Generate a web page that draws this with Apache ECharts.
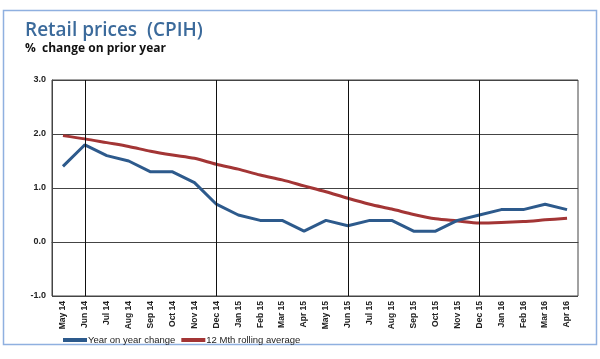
<!DOCTYPE html>
<html><head><meta charset="utf-8">
<script src="https://cdn.jsdelivr.net/npm/echarts@6/dist/echarts.min.js"></script>
<style>html,body{margin:0;padding:0;background:#fff}#c{width:600px;height:359px}</style>
</head><body><div id="c"></div>
<script>
var categories = ['May 14','Jun 14','Jul 14','Aug 14','Sep 14','Oct 14','Nov 14','Dec 14','Jan 15','Feb 15','Mar 15','Apr 15','May 15','Jun 15','Jul 15','Aug 15','Sep 15','Oct 15','Nov 15','Dec 15','Jan 16','Feb 16','Mar 16','Apr 16'];
var yoyChange = [1.4,1.8,1.6,1.5,1.3,1.3,1.1,0.7,0.5,0.4,0.4,0.2,0.4,0.3,0.4,0.4,0.2,0.2,0.4,0.5,0.6,0.6,0.7,0.6];
var rollingAvg = [1.97,1.91,1.84,1.77,1.68,1.61,1.55,1.44,1.35,1.24,1.15,1.04,0.93,0.81,0.70,0.61,0.51,0.43,0.39,0.35,0.36,0.38,0.41,0.44];
var verticalMarks = ['Jun 14','Dec 14','Jun 15','Dec 15'];
var yTicks = {min:-1, max:3, interval:1};

var chart = echarts.init(document.getElementById('c'));
chart.setOption({
  animation:false,
  graphic:[{type:'rect',shape:{x:3.5,y:10.5,width:593,height:334},style:{fill:'none',stroke:'#8fb0e0',lineWidth:1.5}}],
  title:{text:'Retail prices  (CPIH)',subtext:'%  change on prior year',left:20,top:16,itemGap:3,
    textStyle:{fontFamily:'Open Sans',fontWeight:600,fontSize:19,color:'#3b6a9b'},
    subtextStyle:{fontFamily:'Open Sans',fontWeight:700,fontSize:12,color:'#111'}},
  legend:{left:58,top:330,itemWidth:24,itemHeight:4,itemGap:6,icon:'rect',
    textStyle:{fontFamily:'Liberation Sans',fontSize:9.5,color:'#222',padding:[0,0,0,-4]},
    data:['Year on year change','12 Mth rolling average']},
  grid:{left:52,right:22,top:80,bottom:63,show:true,borderColor:'#444',borderWidth:1},
  xAxis:{type:'category',data:categories,boundaryGap:true,
    axisLine:{lineStyle:{color:'#444'}},axisTick:{show:false},splitLine:{show:false},
    axisLabel:{rotate:90,interval:0,fontFamily:'Liberation Sans',fontWeight:'bold',fontSize:8.5,color:'#222',margin:5}},
  yAxis:{type:'value',min:yTicks.min,max:yTicks.max,interval:yTicks.interval,
    axisLine:{show:true,lineStyle:{color:'#444'}},axisTick:{show:false},
    splitLine:{lineStyle:{color:'#444',width:1}},
    axisLabel:{formatter:function(v){return v.toFixed(1);},fontFamily:'Liberation Sans',fontWeight:'bold',fontSize:9,color:'#222',margin:6}},
  series:[
    {name:'Year on year change',type:'line',data:yoyChange,symbol:'none',lineStyle:{width:3,color:'#2d5a8c'},itemStyle:{color:'#2d5a8c'},z:3,
      markLine:{silent:true,symbol:'none',label:{show:false},lineStyle:{color:'#111',width:1,type:'solid'},
        data:verticalMarks.map(function(c){return {xAxis:c};})}},
    {name:'12 Mth rolling average',type:'line',data:rollingAvg,symbol:'none',smooth:0.3,lineStyle:{width:3,color:'#a33535'},itemStyle:{color:'#a33535'},z:2}
  ]
});
</script></body></html>
